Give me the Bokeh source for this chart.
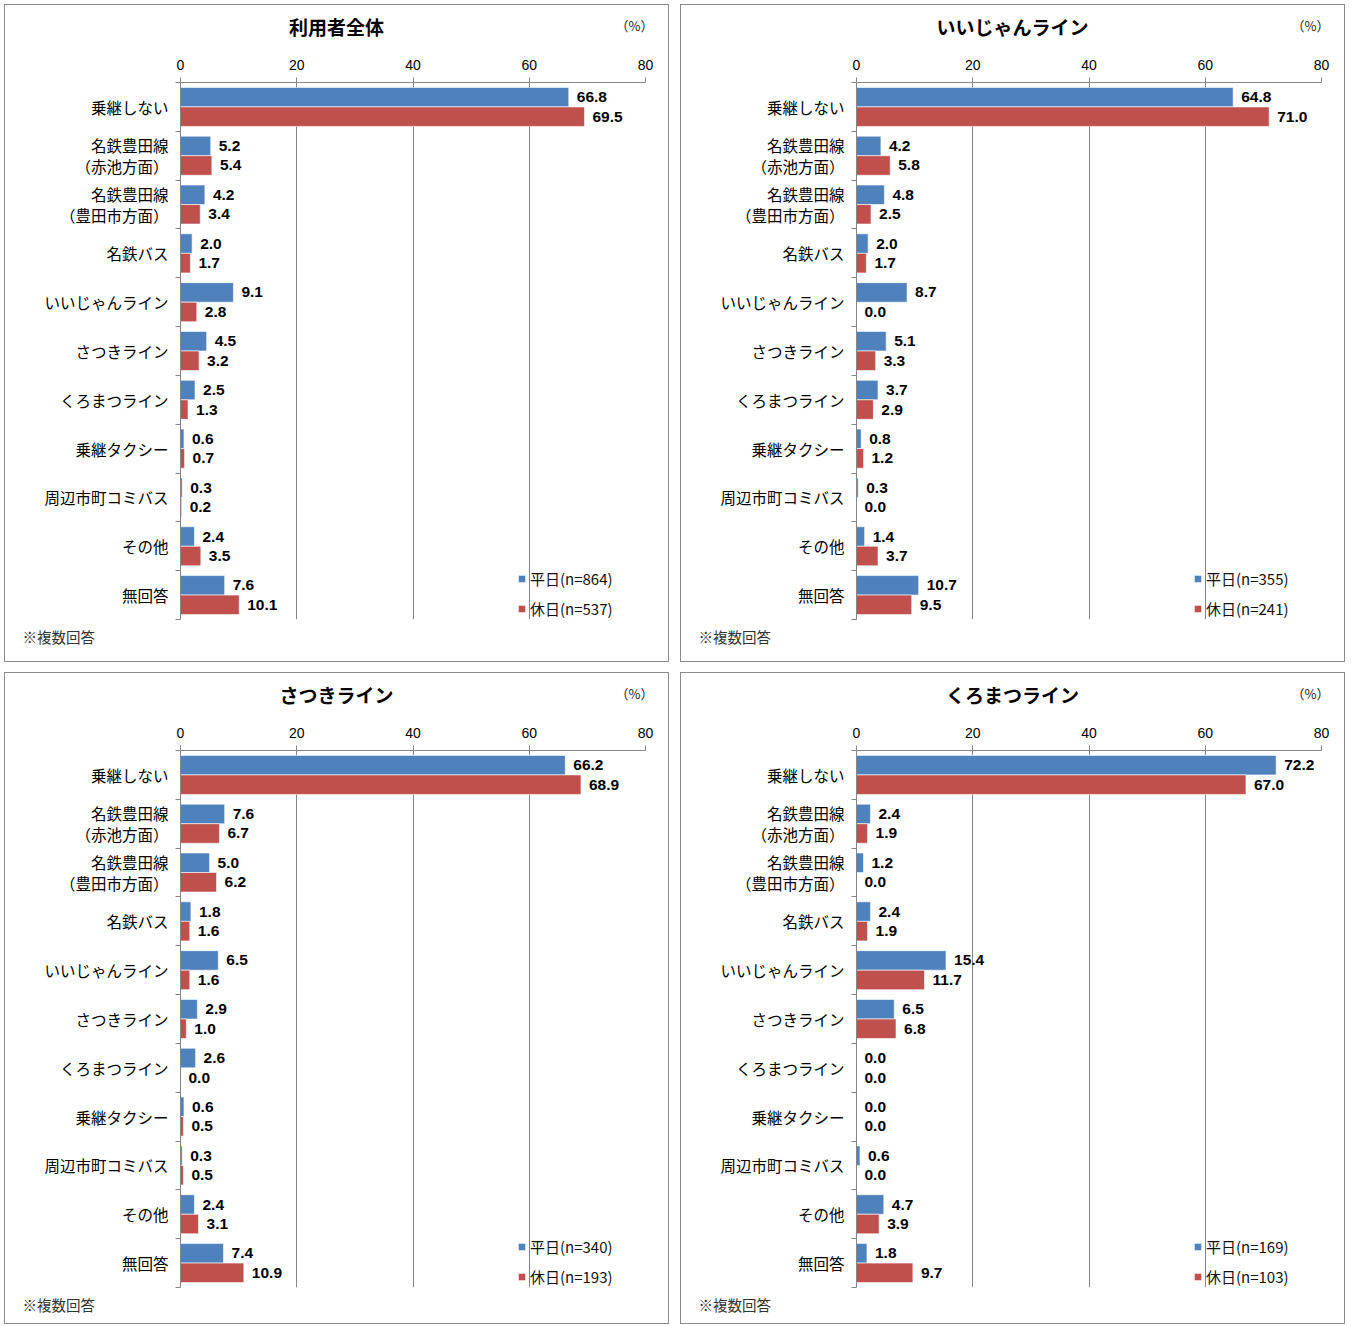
from bokeh.plotting import figure
from bokeh.models import Range1d, FixedTicker, ColumnDataSource, Label, Legend, LegendItem, Spacer
from bokeh.transform import dodge
from bokeh.layouts import row, column
from bokeh.embed import file_html
from bokeh.resources import INLINE
from bokeh.core.properties import value

categories = ["乗継しない", "名鉄豊田線\n（赤池方面）", "名鉄豊田線\n（豊田市方面）", "名鉄バス",
              "いいじゃんライン", "さつきライン", "くろまつライン", "乗継タクシー",
              "周辺市町コミバス", "その他", "無回答"]
ticks_x = [0, 20, 40, 60, 80]

titles = ["利用者全体", "いいじゃんライン", "さつきライン", "くろまつライン"]
n_weekday = [864, 355, 340, 169]
n_holiday = [537, 241, 193, 103]

weekday_all = [66.8, 5.2, 4.2, 2.0, 9.1, 4.5, 2.5, 0.6, 0.3, 2.4, 7.6]
holiday_all = [69.5, 5.4, 3.4, 1.7, 2.8, 3.2, 1.3, 0.7, 0.2, 3.5, 10.1]
weekday_iijan = [64.8, 4.2, 4.8, 2.0, 8.7, 5.1, 3.7, 0.8, 0.3, 1.4, 10.7]
holiday_iijan = [71.0, 5.8, 2.5, 1.7, 0.0, 3.3, 2.9, 1.2, 0.0, 3.7, 9.5]
weekday_satsuki = [66.2, 7.6, 5.0, 1.8, 6.5, 2.9, 2.6, 0.6, 0.3, 2.4, 7.4]
holiday_satsuki = [68.9, 6.7, 6.2, 1.6, 1.6, 1.0, 0.0, 0.5, 0.5, 3.1, 10.9]
weekday_kuromatsu = [72.2, 2.4, 1.2, 2.4, 15.4, 6.5, 0.0, 0.0, 0.6, 4.7, 1.8]
holiday_kuromatsu = [67.0, 1.9, 0.0, 1.9, 11.7, 6.8, 0.0, 0.0, 0.0, 3.9, 9.7]

weekday_sets = [weekday_all, weekday_iijan, weekday_satsuki, weekday_kuromatsu]
holiday_sets = [holiday_all, holiday_iijan, holiday_satsuki, holiday_kuromatsu]

BLUE = "#4F81BD"
RED = "#C0504D"
GRID = "#868686"
BORDER = "1px solid #8c8c8c"
JPF = "Noto Sans CJK JP"
NUM = "Liberation Sans"
PW = 665


def blank_fig(h, styles):
    f = figure(width=PW, height=h, x_range=Range1d(0, 1), y_range=Range1d(0, 1),
               x_axis_type=None, y_axis_type=None, output_backend="svg", toolbar_location=None,
               min_border=0, outline_line_color=None, border_fill_color="white",
               background_fill_color="white", styles=styles, frame_align=False)
    f.grid.visible = False
    return f


def make_panel(title, wd, hd, nw, nh, footer_h):
    # header with title and unit
    head = blank_fig(40, {"border-top": BORDER, "border-left": BORDER, "border-right": BORDER})
    head.add_layout(Label(x=331, y=19, x_units="screen", y_units="screen", text=title,
                          text_font=JPF, text_font_style="bold", text_font_size="19px",
                          text_align="center", text_baseline="middle", text_color="black"))
    head.add_layout(Label(x=629, y=20, x_units="screen", y_units="screen", text="（%）",
                          text_font=JPF, text_font_size="13px",
                          text_align="center", text_baseline="middle", text_color="#222222"))

    src = ColumnDataSource(dict(
        pos=list(range(len(categories))),
        wd=wd, hd=hd,
        wd_lbl=[f"{v:.1f}" for v in wd],
        hd_lbl=[f"{v:.1f}" for v in hd],
    ))
    p = figure(width=PW, height=578,
               x_range=Range1d(0, 80), y_range=Range1d(len(categories) - 0.5, -0.5),
               x_axis_location="above", output_backend="svg", toolbar_location=None,
               min_border_left=175, min_border_right=25, min_border_top=38, min_border_bottom=3,
               outline_line_color=None, background_fill_color="white", border_fill_color="white",
               styles={"border-left": BORDER, "border-right": BORDER})

    xa = p.xaxis[0]
    xa.ticker = FixedTicker(ticks=ticks_x, minor_ticks=[])
    xa.axis_line_color = GRID
    xa.major_tick_line_color = GRID
    xa.major_tick_out = 5
    xa.major_tick_in = 0
    xa.major_label_text_font = NUM
    xa.major_label_text_font_size = "14px"
    xa.major_label_text_color = "black"
    xa.major_label_standoff = 8

    ya = p.yaxis[0]
    ya.ticker = FixedTicker(ticks=list(range(len(categories))),
                            minor_ticks=[i - 0.5 for i in range(len(categories) + 1)])
    ya.major_label_overrides = {i: c for i, c in enumerate(categories)}
    ya.major_tick_line_color = None
    ya.minor_tick_line_color = GRID
    ya.minor_tick_out = 5
    ya.minor_tick_in = 0
    ya.axis_line_color = GRID
    ya.major_label_standoff = 6
    ya.major_label_text_font = JPF
    ya.major_label_text_font_size = "15.5px"
    ya.major_label_text_color = "black"
    ya.major_label_text_line_height = 0.93

    p.xgrid.grid_line_color = GRID
    p.ygrid.grid_line_color = None

    r1 = p.hbar(y=dodge("pos", -0.2), left=0, right="wd", height=0.4, source=src,
                fill_color=BLUE, line_color="white", line_width=0.6)
    r2 = p.hbar(y=dodge("pos", 0.2), left=0, right="hd", height=0.4, source=src,
                fill_color=RED, line_color="white", line_width=0.6)

    for col, lbl, off in (("wd", "wd_lbl", -0.2), ("hd", "hd_lbl", 0.2)):
        p.text(x=col, y=dodge("pos", off), text=lbl, source=src, x_offset=8,
               text_baseline="middle", text_align="left", text_font=value(NUM),
               text_font_style="bold", text_font_size="15.5px", text_color="black")

    legend = Legend(items=[LegendItem(label=f"平日(n={nw})", renderers=[r1]),
                           LegendItem(label=f"休日(n={nh})", renderers=[r2])],
                    location=(337, 0), orientation="vertical", spacing=9, padding=0, margin=0,
                    border_line_color=None, background_fill_alpha=0,
                    glyph_width=9, glyph_height=9, label_height=14, label_standoff=4,
                    label_text_font=JPF, label_text_font_size="15px",
                    label_text_color="#111111")
    p.add_layout(legend, "center")

    foot = blank_fig(footer_h, {"border-bottom": BORDER, "border-left": BORDER,
                                "border-right": BORDER})
    foot.add_layout(Label(x=17, y=footer_h - 1 - 13, x_units="screen", y_units="screen",
                          text="※複数回答", text_font=JPF, text_font_size="14.5px",
                          text_align="left", text_baseline="middle", text_color="#333333"))
    return column(head, p, foot, spacing=0)


panels = [make_panel(titles[i], weekday_sets[i], holiday_sets[i], n_weekday[i], n_holiday[i],
                     40 if i < 2 else 34)
          for i in range(4)]

grid = column(row(panels[0], panels[1], spacing=11),
              row(panels[2], panels[3], spacing=11), spacing=10)
layout = row(Spacer(width=4), column(Spacer(height=4), grid, spacing=0), spacing=0)

open("out.html", "w", encoding="utf-8").write(file_html(layout, INLINE))
